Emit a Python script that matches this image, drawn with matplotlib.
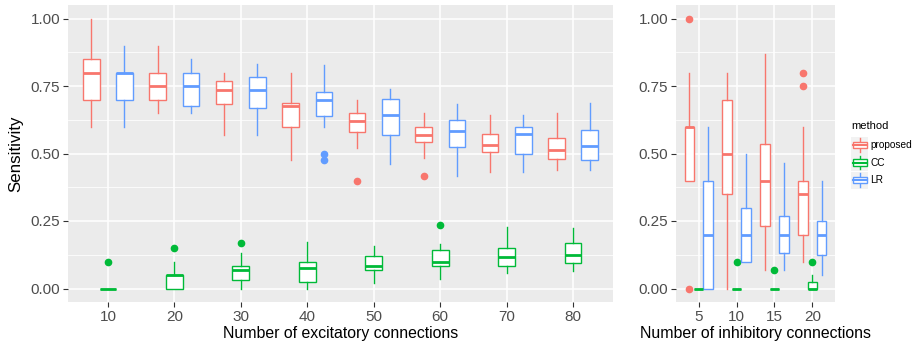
import numpy as np
import matplotlib.pyplot as plt
from matplotlib.legend_handler import HandlerBase
from matplotlib.patches import Rectangle, Patch
from matplotlib.lines import Line2D

plt.rcParams['font.family'] = ['Liberation Sans', 'DejaVu Sans']

methods = ['proposed', 'CC', 'LR']
colores = ['#F8766D', '#00BA38', '#619CFF']

# conexiones excitatorias: cada fila = [whisker bajo, q1, mediana, q3, whisker alto]
exc_labels = ['10', '20', '30', '40', '50', '60', '70', '80']
exc_proposed = [[0.60, 0.70, 0.80, 0.85, 1.00],
                [0.65, 0.70, 0.75, 0.80, 0.90],
                [0.567, 0.684, 0.735, 0.768, 0.80],
                [0.475, 0.60, 0.675, 0.687, 0.80],
                [0.522, 0.58, 0.622, 0.65, 0.70],
                [0.485, 0.541, 0.567, 0.60, 0.65],
                [0.43, 0.507, 0.53, 0.571, 0.643],
                [0.438, 0.481, 0.514, 0.557, 0.65]]
exc_cc = [[0.0, 0.0, 0.0, 0.0, 0.0],
          [0.0, 0.0, 0.05, 0.05, 0.10],
          [0.0, 0.032, 0.067, 0.082, 0.131],
          [0.0, 0.023, 0.075, 0.10, 0.173],
          [0.02, 0.069, 0.082, 0.12, 0.158],
          [0.035, 0.083, 0.099, 0.142, 0.166],
          [0.057, 0.085, 0.115, 0.15, 0.227],
          [0.063, 0.094, 0.125, 0.168, 0.224]]
exc_lr = [[0.60, 0.70, 0.80, 0.80, 0.90],
          [0.65, 0.676, 0.75, 0.80, 0.85],
          [0.567, 0.667, 0.735, 0.784, 0.833],
          [0.60, 0.639, 0.70, 0.727, 0.826],
          [0.461, 0.57, 0.642, 0.702, 0.74],
          [0.418, 0.525, 0.585, 0.625, 0.684],
          [0.43, 0.50, 0.571, 0.60, 0.643],
          [0.438, 0.475, 0.527, 0.588, 0.687]]
exc_proposed_out = [[], [], [], [], [0.40], [0.417], [], []]
exc_cc_out = [[0.10], [0.15], [0.167], [], [], [0.234], [], []]
exc_lr_out = [[], [], [], [0.50, 0.475], [], [], [], []]

# conexiones inhibitorias
inh_labels = ['5', '10', '15', '20']
inh_proposed = [[0.40, 0.40, 0.60, 0.60, 0.80],
                [0.0, 0.35, 0.50, 0.70, 0.80],
                [0.067, 0.232, 0.40, 0.534, 0.867],
                [0.10, 0.20, 0.35, 0.40, 0.60]]
inh_cc = [[0.0, 0.0, 0.0, 0.0, 0.0],
          [0.0, 0.0, 0.0, 0.0, 0.0],
          [0.0, 0.0, 0.0, 0.0, 0.0],
          [0.0, 0.0, 0.0, 0.025, 0.05]]
inh_lr = [[0.0, 0.0, 0.20, 0.40, 0.60],
          [0.10, 0.10, 0.20, 0.30, 0.50],
          [0.067, 0.133, 0.20, 0.267, 0.466],
          [0.05, 0.124, 0.20, 0.25, 0.40]]
inh_proposed_out = [[1.00, 0.0], [], [], [0.80, 0.75]]
inh_cc_out = [[], [0.10], [0.067], [0.10]]
inh_lr_out = [[], [], [], []]


def dibujar(ax, series, outs, labels):
    n = len(labels)
    for k, (datos, fuera, col) in enumerate(zip(series, outs, colores)):
        stats = []
        for fila, f in zip(datos, fuera):
            stats.append(dict(whislo=fila[0], q1=fila[1], med=fila[2],
                              q3=fila[3], whishi=fila[4], fliers=f))
        pos = np.arange(1, n + 1) + (k - 1) * 0.25  # dodge: proposed, CC, LR
        ax.bxp(stats, positions=pos, widths=0.25, patch_artist=True,
               showcaps=False,
               boxprops=dict(facecolor='white', edgecolor=col, linewidth=1.0),
               whiskerprops=dict(color=col, linewidth=1.0),
               medianprops=dict(color=col, linewidth=2.0, solid_capstyle='butt'),
               flierprops=dict(marker='o', markerfacecolor=col,
                               markeredgecolor=col, markersize=4.5))
    ax.set_facecolor('#EBEBEB')
    ax.set_xlim(0.4, n + 0.6)
    ax.set_ylim(-0.05, 1.05)
    ax.set_xticks(np.arange(1, n + 1))
    ax.set_xticklabels(labels)
    ax.set_yticks([0, 0.25, 0.5, 0.75, 1.0])
    ax.set_yticklabels(['0.00', '0.25', '0.50', '0.75', '1.00'])
    ax.set_yticks([0.125, 0.375, 0.625, 0.875], minor=True)
    ax.grid(True, which='major', color='white', linewidth=1.1)
    ax.grid(True, which='minor', axis='y', color='white', linewidth=0.55)
    ax.set_axisbelow(True)
    for s in ax.spines.values():
        s.set_visible(False)
    ax.tick_params(which='major', length=3.5, width=0.8, color='#333333',
                   labelcolor='#4D4D4D', labelsize=11, pad=2)
    ax.tick_params(which='minor', length=0)


fig = plt.figure(figsize=(9.13, 3.43), dpi=100)
ax1 = fig.add_axes([68 / 913, 1 - 302 / 343, 545 / 913, 297 / 343])
ax2 = fig.add_axes([676 / 913, 1 - 302 / 343, 159 / 913, 297 / 343])

dibujar(ax1, [exc_proposed, exc_cc, exc_lr],
        [exc_proposed_out, exc_cc_out, exc_lr_out], exc_labels)
dibujar(ax2, [inh_proposed, inh_cc, inh_lr],
        [inh_proposed_out, inh_cc_out, inh_lr_out], inh_labels)

ax1.set_xlabel('Number of excitatory connections', fontsize=11.4, labelpad=2)
ax1.set_ylabel('Sensitivity', fontsize=12.2, labelpad=5)
ax2.set_xlabel('Number of inhibitory connections', fontsize=11.4, labelpad=2)


# llave de leyenda estilo ggplot (cajita vertical sobre fondo gris)
class CajaLeyenda(HandlerBase):
    def create_artists(self, legend, orig, xd, yd, w, h, fontsize, trans):
        col = orig.get_edgecolor()
        x0, y0 = -xd, -yd
        fondo = Rectangle((x0, y0), w, h, facecolor='#F2F2F2',
                          edgecolor='none', transform=trans)
        cx = x0 + w / 2
        bigote = Line2D([cx, cx], [y0 + 0.1 * h, y0 + 0.9 * h], color=col,
                        linewidth=1.0, transform=trans)
        caja = Rectangle((x0 + 0.1 * w, y0 + 0.3 * h), 0.8 * w, 0.4 * h,
                         facecolor='white', edgecolor=col, linewidth=1.0,
                         transform=trans)
        mediana = Line2D([x0 + 0.1 * w, x0 + 0.9 * w], [y0 + h / 2, y0 + h / 2],
                         color=col, linewidth=1.5, transform=trans)
        return [fondo, bigote, caja, mediana]


handles = [Patch(edgecolor=c, facecolor='white', label=m)
           for m, c in zip(methods, colores)]
leg = fig.legend(handles=handles, title='method', loc='upper left',
                 bbox_to_anchor=(850 / 913, 1 - 120 / 343), frameon=False,
                 fontsize=7.3, title_fontsize=8, alignment='left',
                 handlelength=1.7, handleheight=2.2, handletextpad=0.2,
                 labelspacing=0.05, borderpad=0.1, borderaxespad=0,
                 handler_map={Patch: CajaLeyenda()})
leg._legend_box.sep = 4  # un poco mas de aire bajo el titulo

fig.savefig('out.png', dpi=100)
